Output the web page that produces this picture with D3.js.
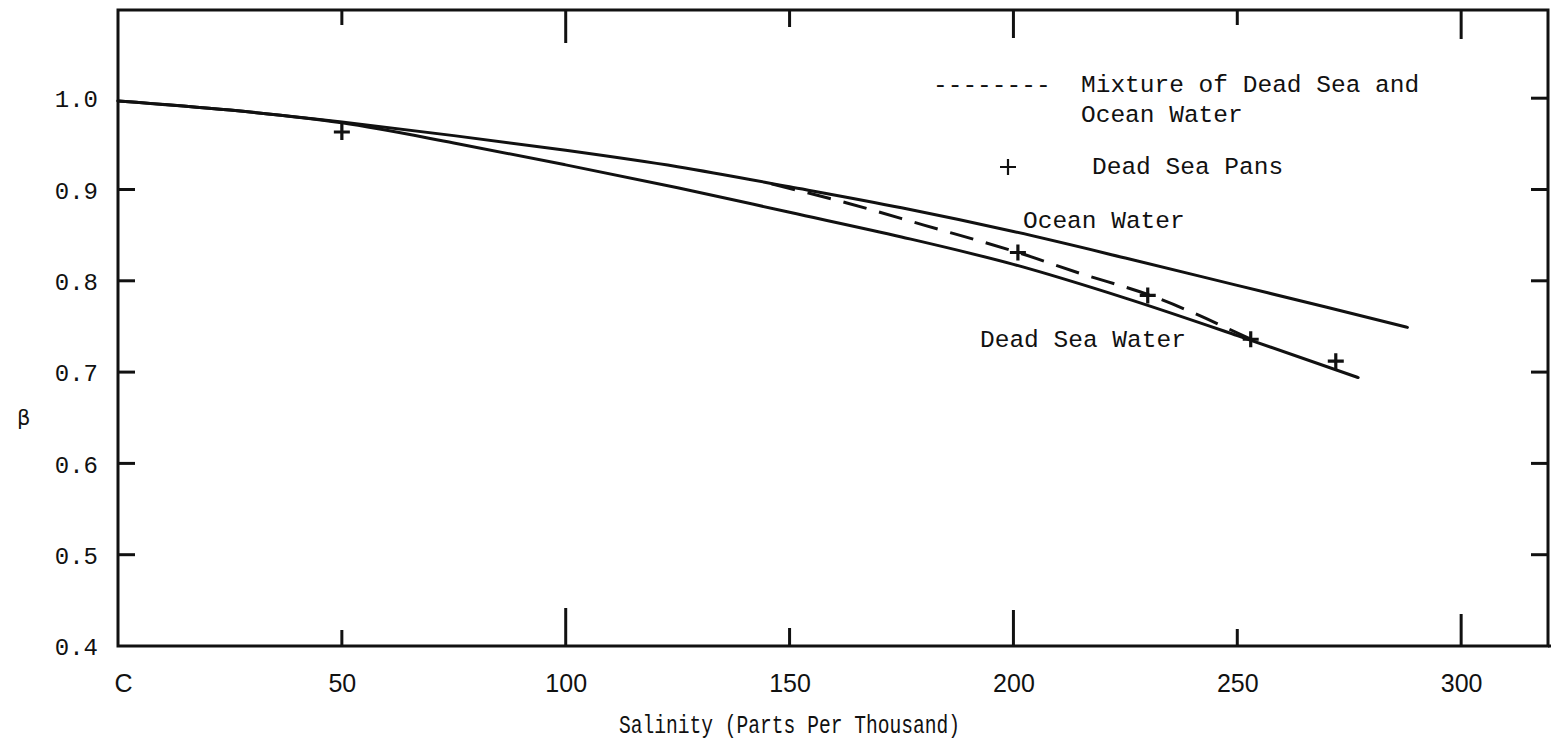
<!DOCTYPE html>
<html>
<head>
<meta charset="utf-8">
<script src="https://cdn.jsdelivr.net/npm/d3@7"></script>
<style>
  html, body { margin: 0; padding: 0; background: #fff; }
  svg { display: block; }
  .tw { font-family: "Liberation Mono", "DejaVu Sans Mono", monospace; fill: #111; }
  .num { font-family: "Liberation Sans Narrow", "Liberation Sans", "DejaVu Sans", sans-serif; fill: #111; }
</style>
</head>
<body>
<svg id="chart" width="1551" height="745"></svg>
<script>
// Salinity (ppt) vs beta, typewritten-style figure
const salinityTicks = [0, 50, 100, 150, 200, 250, 300];
const salinityTickLabels = ["C", "50", "100", "150", "200", "250", "300"];
const betaTicks = [0.4, 0.5, 0.6, 0.7, 0.8, 0.9, 1.0];
const betaTickLabels = ["0.4", "0.5", "0.6", "0.7", "0.8", "0.9", "1.0"];

// Ocean water curve [salinity, beta]
const oceanWater = [
  [0, 0.997], [25, 0.987], [50, 0.974], [75, 0.959], [100, 0.943],
  [125, 0.925], [150, 0.903], [175, 0.880], [200, 0.854],
  [225, 0.825], [250, 0.795], [270, 0.771], [288, 0.749]
];
// Dead Sea water curve
const deadSeaWater = [
  [0, 0.997], [25, 0.987], [50, 0.973], [75, 0.951], [100, 0.927],
  [125, 0.902], [150, 0.875], [175, 0.848], [200, 0.818],
  [225, 0.781], [250, 0.740], [277, 0.694]
];
// Mixture of Dead Sea and ocean water (dashed)
const mixture = [
  [146, 0.906], [163, 0.885], [180, 0.861], [201, 0.831],
  [215, 0.808], [230, 0.785], [253, 0.736]
];
// Dead Sea pans measurements
const pansSalinity = [50, 201, 230, 253, 272];
const pansBeta = [0.963, 0.831, 0.784, 0.736, 0.712];

const svg = d3.select("#chart");
const frame = { left: 118, right: 1548, top: 10, bottom: 646 };

const x = d3.scaleLinear().domain([0, 319.4]).range([frame.left, frame.right]);
const y = d3.scaleLinear().domain([0.4, 1.0966]).range([frame.bottom, frame.top]);

const ink = "#111";

// Frame
svg.append("rect")
  .attr("x", frame.left).attr("y", frame.top)
  .attr("width", frame.right - frame.left).attr("height", frame.bottom - frame.top)
  .attr("fill", "none").attr("stroke", ink).attr("stroke-width", 3);
svg.append("line")
  .attr("x1", frame.right).attr("x2", 1551)
  .attr("y1", frame.bottom).attr("y2", frame.bottom)
  .attr("stroke", ink).attr("stroke-width", 3);

// Inward ticks on x (bottom: upward, top: downward)
const bottomLen = [0, 16, 38, 18, 36, 17, 32];
const topLen = [0, 15, 33, 17, 28, 15, 29];
salinityTicks.forEach((d, i) => {
  if (i === 0) return;
  svg.append("line")
    .attr("x1", x(d)).attr("x2", x(d))
    .attr("y1", frame.bottom).attr("y2", frame.bottom - bottomLen[i])
    .attr("stroke", ink).attr("stroke-width", 3);
  svg.append("line")
    .attr("x1", x(d)).attr("x2", x(d))
    .attr("y1", frame.top).attr("y2", frame.top + topLen[i])
    .attr("stroke", ink).attr("stroke-width", 3);
});

// Inward ticks on y (left and right)
betaTicks.forEach(d => {
  if (d <= 0.4) return;
  if (d < 1.0) {
    svg.append("line")
      .attr("x1", frame.left).attr("x2", frame.left + 17)
      .attr("y1", y(d)).attr("y2", y(d))
      .attr("stroke", ink).attr("stroke-width", 3);
  }
  svg.append("line")
    .attr("x1", frame.right).attr("x2", frame.right - 17)
    .attr("y1", y(d)).attr("y2", y(d))
    .attr("stroke", ink).attr("stroke-width", 3);
});

// Axis labels via d3 axes (tick marks hidden, labels only)
const xAxis = d3.axisBottom(x)
  .tickValues(salinityTicks)
  .tickSize(0)
  .tickPadding(0)
  .tickFormat((d, i) => salinityTickLabels[i]);
const gx = svg.append("g").attr("transform", `translate(0,${frame.bottom})`).call(xAxis);
gx.select(".domain").remove();
gx.selectAll("text")
  .attr("class", "num")
  .attr("font-size", 25)
  .attr("dy", null)
  .attr("y", 46)
  .style("font-family", "'Liberation Sans Narrow','Liberation Sans',sans-serif")
  .attr("fill", ink);
gx.selectAll(".tick").filter(d => d === 0)
  .select("text").attr("x", 5);

const yAxis = d3.axisLeft(y)
  .tickValues(betaTicks)
  .tickSize(0)
  .tickPadding(20)
  .tickFormat((d, i) => betaTickLabels[i]);
const gy = svg.append("g").attr("transform", `translate(${frame.left},0)`).call(yAxis);
gy.select(".domain").remove();
gy.selectAll("text")
  .attr("font-size", 24)
  .style("font-family", "'Liberation Mono','DejaVu Sans Mono',monospace")
  .attr("fill", ink)
  .attr("dy", "0.36em");

// Axis titles
svg.append("text").attr("class", "tw")
  .attr("x", 619).attr("y", 733)
  .attr("font-size", 26)
  .attr("textLength", 341).attr("lengthAdjust", "spacingAndGlyphs")
  .text("Salinity (Parts Per Thousand)");
svg.append("text")
  .attr("x", 17).attr("y", 425)
  .attr("font-size", 21)
  .style("font-family", "'DejaVu Sans', sans-serif")
  .attr("fill", ink)
  .text("β");

// Curves
const line = d3.line()
  .x(d => x(d[0]))
  .y(d => y(d[1]))
  .curve(d3.curveMonotoneX);

svg.append("path").datum(oceanWater)
  .attr("d", line).attr("fill", "none")
  .attr("stroke", ink).attr("stroke-width", 3).attr("stroke-linecap", "round");
svg.append("path").datum(deadSeaWater)
  .attr("d", line).attr("fill", "none")
  .attr("stroke", ink).attr("stroke-width", 3).attr("stroke-linecap", "round");
svg.append("path").datum(mixture)
  .attr("d", line).attr("fill", "none")
  .attr("stroke", ink).attr("stroke-width", 3)
  .attr("stroke-dasharray", "24,13");

// Pans markers
const half = 8;
pansSalinity.forEach((s, i) => {
  const cx = x(s), cy = y(pansBeta[i]);
  svg.append("path")
    .attr("d", `M${cx - half},${cy}H${cx + half}M${cx},${cy - half}V${cy + half}`)
    .attr("stroke", ink).attr("stroke-width", 3.2).attr("fill", "none");
});

// Legend
svg.append("text").attr("class", "tw").attr("font-size", 24.5)
  .attr("x", 933).attr("y", 92).text("--------");
svg.append("text").attr("class", "tw").attr("font-size", 24.5)
  .attr("x", 1081).attr("y", 92).text("Mixture of Dead Sea and");
svg.append("text").attr("class", "tw").attr("font-size", 24.5)
  .attr("x", 1081).attr("y", 122).text("Ocean Water");
svg.append("path")
  .attr("d", "M1000,167H1016M1008,159V175")
  .attr("stroke", ink).attr("stroke-width", 2.2).attr("fill", "none");
svg.append("text").attr("class", "tw").attr("font-size", 24.5)
  .attr("x", 1092).attr("y", 174).text("Dead Sea Pans");

// Curve labels
svg.append("text").attr("class", "tw").attr("font-size", 24.5)
  .attr("x", 1023).attr("y", 228).text("Ocean Water");
svg.append("text").attr("class", "tw").attr("font-size", 24.5)
  .attr("x", 980).attr("y", 347).text("Dead Sea Water");
</script>
</body>
</html>
